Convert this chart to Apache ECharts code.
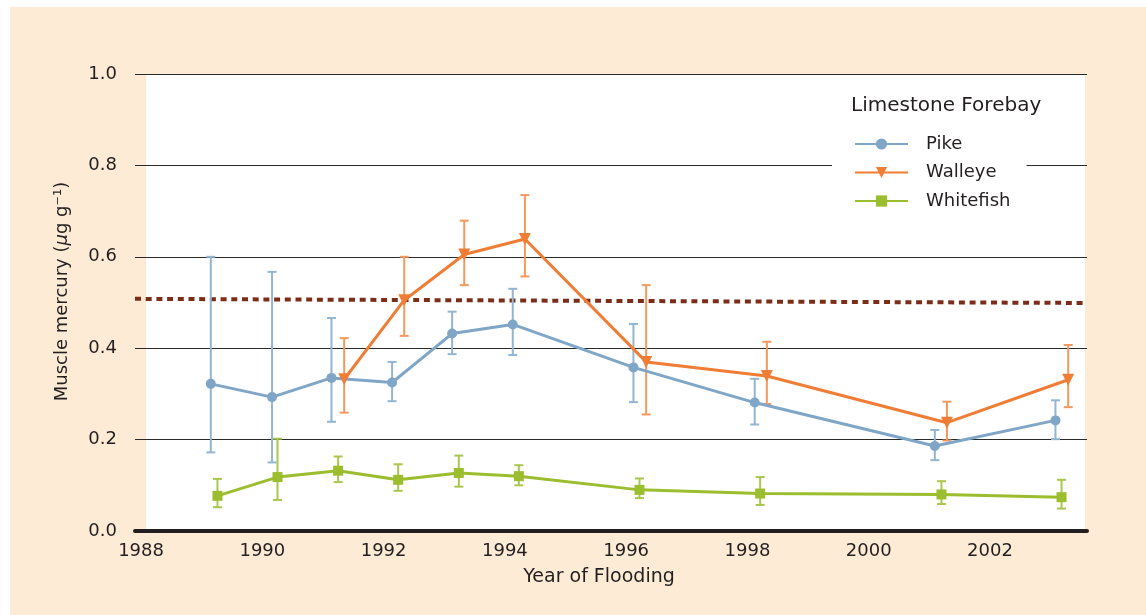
<!DOCTYPE html>
<html>
<head>
<meta charset="utf-8">
<script src="https://cdn.jsdelivr.net/npm/echarts@6/dist/echarts.min.js"></script>
<style>
  html, body { margin: 0; padding: 0; background: #ffffff; width: 1146px; height: 615px; overflow: hidden; }
  #chart { position: absolute; left: 10px; top: 7px; width: 1136px; height: 608px; }
</style>
</head>
<body>
<div id="chart"></div>
<script>
// ---- Data ----
const xTicks = [1988, 1990, 1992, 1994, 1996, 1998, 2000, 2002];
const yTicks = [0, 0.2, 0.4, 0.6, 0.8, 1.0];

const pikeYears  = [1989.15, 1990.16, 1991.14, 1992.14, 1993.13, 1994.13, 1996.12, 1998.12, 2001.09, 2003.08];
const pikeMean   = [0.322, 0.293, 0.335, 0.325, 0.432, 0.452, 0.358, 0.281, 0.186, 0.242];
const pikeLow    = [0.172, 0.150, 0.239, 0.284, 0.387, 0.385, 0.282, 0.233, 0.155, 0.201];
const pikeHigh   = [0.600, 0.567, 0.466, 0.370, 0.480, 0.530, 0.453, 0.333, 0.221, 0.286];

const walleyeYears = [1991.35, 1992.34, 1993.33, 1994.33, 1996.33, 1998.32, 2001.29, 2003.29];
const walleyeMean  = [0.332, 0.505, 0.605, 0.639, 0.370, 0.339, 0.237, 0.331];
const walleyeLow   = [0.259, 0.427, 0.538, 0.557, 0.255, 0.278, 0.198, 0.271];
const walleyeHigh  = [0.422, 0.600, 0.679, 0.735, 0.538, 0.414, 0.283, 0.407];

const whitefishYears = [1989.26, 1990.25, 1991.25, 1992.24, 1993.24, 1994.23, 1996.22, 1998.21, 2001.20, 2003.18];
const whitefishMean  = [0.077, 0.118, 0.132, 0.112, 0.127, 0.120, 0.090, 0.082, 0.080, 0.074];
const whitefishLow   = [0.052, 0.068, 0.107, 0.088, 0.097, 0.100, 0.072, 0.057, 0.059, 0.049];
const whitefishHigh  = [0.114, 0.202, 0.163, 0.146, 0.165, 0.144, 0.115, 0.118, 0.109, 0.112];

const guideYears  = [1987.9, 2003.55];
const guideValues = [0.508, 0.499];

// ---- Build ----
const FONT = 'DejaVu Sans';
const TXT = '#231f20';
const COL = {
  pike: '#7fa6c6', pikeErr: '#92b5d1',
  walleye: '#ef7d35', walleyeErr: '#f3995e',
  whitefish: '#9bbd2e', whitefishErr: '#a9c74c'
};

function zip(a, b) { return a.map((v, i) => [v, b[i]]); }
function zip3(a, b, c) { return a.map((v, i) => [v, b[i], c[i]]); }

function errorSeries(name, years, lo, hi, color) {
  return {
    name: name + ' error',
    type: 'custom',
    z: 3,
    silent: true,
    data: zip3(years, lo, hi),
    renderItem: function (params, api) {
      const x = api.value(0);
      const pLo = api.coord([x, api.value(1)]);
      const pHi = api.coord([x, api.value(2)]);
      const w = 4.5;
      const st = { stroke: color, lineWidth: 2 };
      return {
        type: 'group',
        children: [
          { type: 'line', shape: { x1: pLo[0], y1: pLo[1], x2: pHi[0], y2: pHi[1] }, style: st },
          { type: 'line', shape: { x1: pLo[0] - w, y1: pLo[1], x2: pLo[0] + w, y2: pLo[1] }, style: st },
          { type: 'line', shape: { x1: pHi[0] - w, y1: pHi[1], x2: pHi[0] + w, y2: pHi[1] }, style: st }
        ]
      };
    }
  };
}

function lineSeries(name, years, vals, color, symbol, size) {
  return {
    name: name,
    type: 'line',
    z: 4,
    data: zip(years, vals),
    symbol: symbol,
    symbolSize: size,
    showAllSymbol: true,
    lineStyle: { color: color, width: 3 },
    itemStyle: { color: color },
    emphasis: { disabled: true }
  };
}

const chart = echarts.init(document.getElementById('chart'), null, { renderer: 'canvas' });

const option = {
  backgroundColor: '#fdebd6',
  animation: false,
  textStyle: { fontFamily: FONT, color: TXT },
  title: {
    text: 'Limestone Forebay',
    left: 841,
    top: 89,
    padding: 0,
    textStyle: { fontFamily: FONT, fontSize: 20, fontWeight: 'normal', color: TXT }
  },
  graphic: [{
    type: 'rect',
    z: -1,
    silent: true,
    shape: { x: 136, y: 67, width: 939, height: 457 },
    style: { fill: '#ffffff' }
  }],
  legend: {
    data: ['Pike', 'Walleye', 'Whitefish'],
    orient: 'vertical',
    left: 822,
    top: 124,
    padding: [4, 16, 4, 22],
    backgroundColor: '#ffffff',
    itemWidth: 53,
    itemHeight: 14,
    itemGap: 10.5,
    selectedMode: false,
    textStyle: { fontFamily: FONT, fontSize: 18, color: TXT, padding: [0, 0, 0, 13] }
  },
  grid: { left: 125, right: 59, top: 67, bottom: 84, containLabel: false },
  xAxis: {
    type: 'value',
    min: 1987.9,
    max: 2003.6,
    name: 'Year of Flooding',
    nameLocation: 'middle',
    nameGap: 37,
    nameTextStyle: { fontFamily: FONT, fontSize: 19, color: TXT, padding: [0, 24, 0, 0] },
    axisLine: { show: true, onZero: false, lineStyle: { color: TXT, width: 4 } },
    axisTick: { show: false },
    splitLine: { show: false },
    axisLabel: {
      customValues: xTicks,
      margin: 11,
      fontFamily: FONT, fontSize: 18, color: TXT,
      formatter: v => String(Math.round(v))
    }
  },
  yAxis: {
    type: 'value',
    min: 0,
    max: 1,
    interval: 0.2,
    name: 'Muscle mercury ({i|μ}g g⁻¹)',
    nameLocation: 'middle',
    nameGap: 64,
    nameRotate: 90,
    nameTextStyle: {
      fontFamily: FONT, fontSize: 18, color: TXT, padding: [0, 0, 0, 22],
      rich: { i: { fontFamily: FONT, fontSize: 18, fontStyle: 'italic', color: TXT } }
    },
    axisLine: { show: false },
    axisTick: { show: false },
    splitLine: {
      show: true,
      lineStyle: { color: '#2a2a2a', width: 1.2 },
      showMinLine: false
    },
    axisLabel: {
      margin: 18,
      fontFamily: FONT, fontSize: 18, color: TXT,
      formatter: v => v.toFixed(1)
    }
  },
  series: [
    {
      name: 'guideline',
      type: 'line',
      z: 2,
      silent: true,
      symbol: 'none',
      data: zip(guideYears, guideValues),
      lineStyle: { color: '#7b2e17', width: 4, type: [6, 4.7] }
    },
    errorSeries('Pike', pikeYears, pikeLow, pikeHigh, COL.pikeErr),
    errorSeries('Walleye', walleyeYears, walleyeLow, walleyeHigh, COL.walleyeErr),
    errorSeries('Whitefish', whitefishYears, whitefishLow, whitefishHigh, COL.whitefishErr),
    lineSeries('Pike', pikeYears, pikeMean, COL.pike, 'circle', 10),
    lineSeries('Walleye', walleyeYears, walleyeMean, COL.walleye, 'path://M0,0 L10,0 L5,9 Z', 12),
    lineSeries('Whitefish', whitefishYears, whitefishMean, COL.whitefish, 'rect', 10)
  ]
};

chart.setOption(option);
</script>
</body>
</html>
